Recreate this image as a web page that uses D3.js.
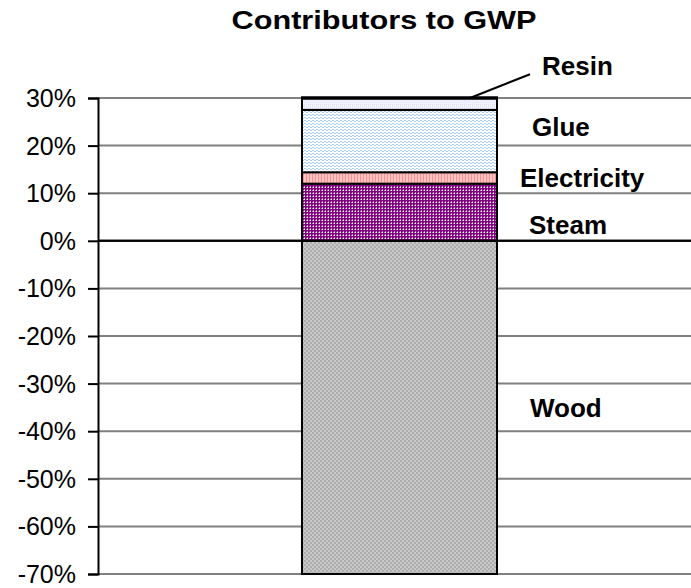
<!DOCTYPE html>
<html>
<head>
<meta charset="utf-8">
<script src="https://cdn.jsdelivr.net/npm/d3@7"></script>
<style>
  body { margin: 0; background: #fff; }
  svg { display: block; font-family: Arial, "Liberation Sans", sans-serif; }
</style>
</head>
<body>
<script>
// stacked contributions (% of total GWP), bottom to top
const categories = ['Wood', 'Steam', 'Electricity', 'Glue', 'Resin']
const values = [-70, 12, 2.4, 13.1, 2.5]
const tickValues = [30, 20, 10, 0, -10, -20, -30, -40, -50, -60, -70]
const title = 'Contributors to GWP'

const WIDTH = 691
const HEIGHT = 588
const margin = { left: 98, right: -10, top: 98, bottom: 14 }

const svg = d3.select('body')
  .append('svg')
  .attr('width', WIDTH)
  .attr('height', HEIGHT)

// fill patterns, roughly like the old excel hatches
const defs = svg.append('defs')
function pattern(id, w, h, bg, cells) {
  const p = defs.append('pattern')
    .attr('id', id)
    .attr('patternUnits', 'userSpaceOnUse')
    .attr('width', w)
    .attr('height', h)
  p.append('rect').attr('width', w).attr('height', h).attr('fill', bg)
  cells.forEach(([x, y, cw, ch, c]) => {
    p.append('rect').attr('x', x).attr('y', y).attr('width', cw).attr('height', ch).attr('fill', c)
  })
}
pattern('p-wood', 4, 4, '#c8c8c8', [[0, 0, 2, 2, '#adadad'], [2, 2, 2, 2, '#adadad']])
pattern('p-steam', 3, 3, '#800080', [[1, 1, 1, 1, '#ffffff'], [0, 1, 1, 1, '#c088c0'], [1, 0, 1, 1, '#c088c0']])
pattern('p-elec', 3, 3, '#ffc4c4', [[0, 0, 1, 3, '#ff8f8f']])
pattern('p-glue', 4, 3, '#ffffff', [[0, 0, 2, 1, '#a8cdf2'], [2, 1, 2, 1, '#a8cdf2']])
pattern('p-resin', 2, 2, '#f2f2ff', [[0, 0, 1, 1, '#e2e4ff']])
const fills = ['url(#p-wood)', 'url(#p-steam)', 'url(#p-elec)', 'url(#p-glue)', 'url(#p-resin)']

const x = d3.scaleBand()
  .domain(['GWP'])
  .range([margin.left, WIDTH - margin.right])
  .paddingOuter(1.046)

const y = d3.scaleLinear()
  .domain([-70, 30])
  .range([HEIGHT - margin.bottom, margin.top])

// gridlines
svg.append('g')
  .selectAll('line')
  .data(tickValues)
  .enter()
  .append('line')
  .attr('x1', margin.left)
  .attr('x2', WIDTH)
  .attr('y1', d => y(d))
  .attr('y2', d => y(d))
  .attr('stroke', d => d === 0 ? '#000' : '#808080')
  .attr('stroke-width', 2)

// stack the segments: negatives go down from 0, positives go up
let pos = 0, neg = 0
const segs = values.map((v, i) => {
  let y0, y1
  if (v < 0) { y0 = neg; y1 = neg + v; neg = y1 }
  else { y0 = pos; y1 = pos + v; pos = y1 }
  return { name: categories[i], y0, y1, fill: fills[i] }
})

const bar = svg.append('g')
bar.selectAll('rect')
  .data(segs)
  .enter()
  .append('rect')
  .attr('x', x('GWP'))
  .attr('width', x.bandwidth())
  .attr('y', d => y(Math.max(d.y0, d.y1)))
  .attr('height', d => Math.abs(y(d.y0) - y(d.y1)))
  .attr('fill', d => d.fill)
  .attr('stroke', '#000')
  .attr('stroke-width', 2)

// heavier top edge of the stack
svg.append('line')
  .attr('x1', x('GWP') - 1)
  .attr('x2', x('GWP') + x.bandwidth() + 1)
  .attr('y1', y(pos))
  .attr('y2', y(pos))
  .attr('stroke', '#000')
  .attr('stroke-width', 3.5)

// zero line over the bar
svg.append('line')
  .attr('x1', margin.left)
  .attr('x2', WIDTH)
  .attr('y1', y(0))
  .attr('y2', y(0))
  .attr('stroke', '#000')
  .attr('stroke-width', 2)

// y axis
const yAxis = d3.axisLeft(y)
  .tickValues(tickValues)
  .tickSize(10)
  .tickPadding(12)
  .tickFormat(d => d + '%')

svg.append('g')
  .attr('transform', `translate(${margin.left},0)`)
  .call(yAxis)
  .call(g => g.select('.domain').attr('stroke-width', 2))
  .call(g => g.selectAll('.tick line').attr('stroke-width', 2))
  .call(g => g.selectAll('.tick text')
    .attr('font-size', 25)
    .attr('dy', '0.34em')
    .attr('font-family', 'Arial, "Liberation Sans", sans-serif')
    .attr('fill', '#000'))

// segment labels: [dx from bar right, value position of baseline]
const labelPos = {
  Wood: [33, -37],
  Steam: [32, 1.5],
  Electricity: [23, 11.3],
  Glue: [35, 22.1],
  Resin: [45, 34.9],
}
const xr = x('GWP') + x.bandwidth()
svg.append('g')
  .selectAll('text')
  .data(categories)
  .enter()
  .append('text')
  .attr('x', d => xr + labelPos[d][0])
  .attr('y', d => y(labelPos[d][1]))
  .attr('font-size', 26)
  .attr('font-weight', 'bold')
  .text(d => d)

// leader line for resin
svg.append('line')
  .attr('x1', xr - 27)
  .attr('y1', y(30))
  .attr('x2', xr + 33)
  .attr('y2', y(35))
  .attr('stroke', '#000')
  .attr('stroke-width', 2)

svg.append('text')
  .attr('x', 384)
  .attr('y', 29)
  .attr('text-anchor', 'middle')
  .attr('font-size', 26)
  .attr('font-weight', 'bold')
  .attr('textLength', 305)
  .attr('lengthAdjust', 'spacingAndGlyphs')
  .text(title)
</script>
</body>
</html>
